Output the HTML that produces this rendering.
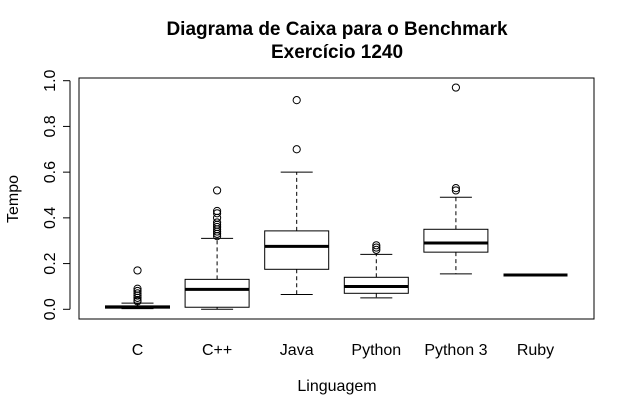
<!DOCTYPE html>
<html><head><meta charset="utf-8"><style>
html,body{margin:0;padding:0;background:#fff;}
svg{display:block;font-family:"Liberation Sans",Arial,sans-serif;}
</style></head><body>
<svg id="chart" width="634" height="417" viewBox="0 0 634 417">
<text x="337" y="35" text-anchor="middle" font-size="19" font-weight="bold">Diagrama de Caixa para o Benchmark</text>
<text x="337" y="58" text-anchor="middle" font-size="19" font-weight="bold">Exercício 1240</text>
<rect x="79" y="78" width="515" height="241" fill="none" stroke="#000" stroke-width="1"/>
<text x="337" y="391" text-anchor="middle" font-size="16">Linguagem</text>
<text transform="translate(18,199) rotate(-90)" text-anchor="middle" font-size="16">Tempo</text>
<g id="marks"></g>
</svg>
<script>
const categories = ["C","C++","Java","Python","Python 3","Ruby"];
const lowWhisker = [0.003,0.0,0.065,0.05,0.155,0.15];
const q1 = [0.005,0.009,0.175,0.07,0.25,0.15];
const medians = [0.01,0.087,0.275,0.10,0.29,0.15];
const q3 = [0.015,0.131,0.343,0.14,0.35,0.15];
const highWhisker = [0.027,0.31,0.60,0.24,0.49,0.15];
const outliers = [
  [0.17,0.09,0.08,0.07,0.06,0.05,0.04,0.035],
  [0.52,0.43,0.42,0.40,0.38,0.37,0.36,0.35,0.34,0.33,0.32],
  [0.915,0.70],
  [0.26,0.27,0.28],
  [0.52,0.53,0.97],
  []
];
const yTicks = [0,0.2,0.4,0.6,0.8,1.0];
const yTickLabels = ["0.0","0.2","0.4","0.6","0.8","1.0"];

const NS="http://www.w3.org/2000/svg";
const g=document.getElementById('marks');
function y(v){return 309.3-v*228.6;}
function x(i){return 137.5+i*79.6;}
function mk(t,a){const e=document.createElementNS(NS,t);for(const k in a)e.setAttribute(k,a[k]);g.appendChild(e);return e;}
const ax=mk('line',{x1:70,x2:70,y1:y(0),y2:y(1),stroke:'#000'});


yTicks.forEach((v,i)=>{
  const t=mk('line',{x1:63,x2:70,y1:y(v),y2:y(v),stroke:'#000'});
  
  
  const l=mk('text',{transform:`translate(55,${y(v)}) rotate(-90)`,'text-anchor':'middle','font-size':16});
  l.textContent=yTickLabels[i];
  
  
});
const hw=32, cw=16;
categories.forEach((c,i)=>{
  const cx=x(i);
  const lb=mk('text',{x:cx,y:355,'text-anchor':'middle','font-size':16});
  lb.textContent=c;
  
  
  const w1=mk('line',{x1:cx,x2:cx,y1:y(q3[i]),y2:y(highWhisker[i]),stroke:'#000','stroke-dasharray':'4,3'});
  
  
  const w2=mk('line',{x1:cx,x2:cx,y1:y(q1[i]),y2:y(lowWhisker[i]),stroke:'#000','stroke-dasharray':'4,3'});
  
  
  const c1=mk('line',{x1:cx-cw,x2:cx+cw,y1:y(highWhisker[i]),y2:y(highWhisker[i]),stroke:'#000'});
  
  
  const c2=mk('line',{x1:cx-cw,x2:cx+cw,y1:y(lowWhisker[i]),y2:y(lowWhisker[i]),stroke:'#000'});
  
  
  const b=mk('rect',{x:cx-hw,y:y(q3[i]),width:2*hw,height:Math.max(0,y(q1[i])-y(q3[i])),fill:'#fff',stroke:'#000'});
  
  
  const m=mk('line',{x1:cx-hw,x2:cx+hw,y1:y(medians[i]),y2:y(medians[i]),stroke:'#000','stroke-width':3});
  
  
  outliers[i].forEach(v=>{
    const o=mk('circle',{cx:cx,cy:y(v),r:3.6,fill:'none',stroke:'#000'});
    
    
  });
});
</script>
</body></html>
